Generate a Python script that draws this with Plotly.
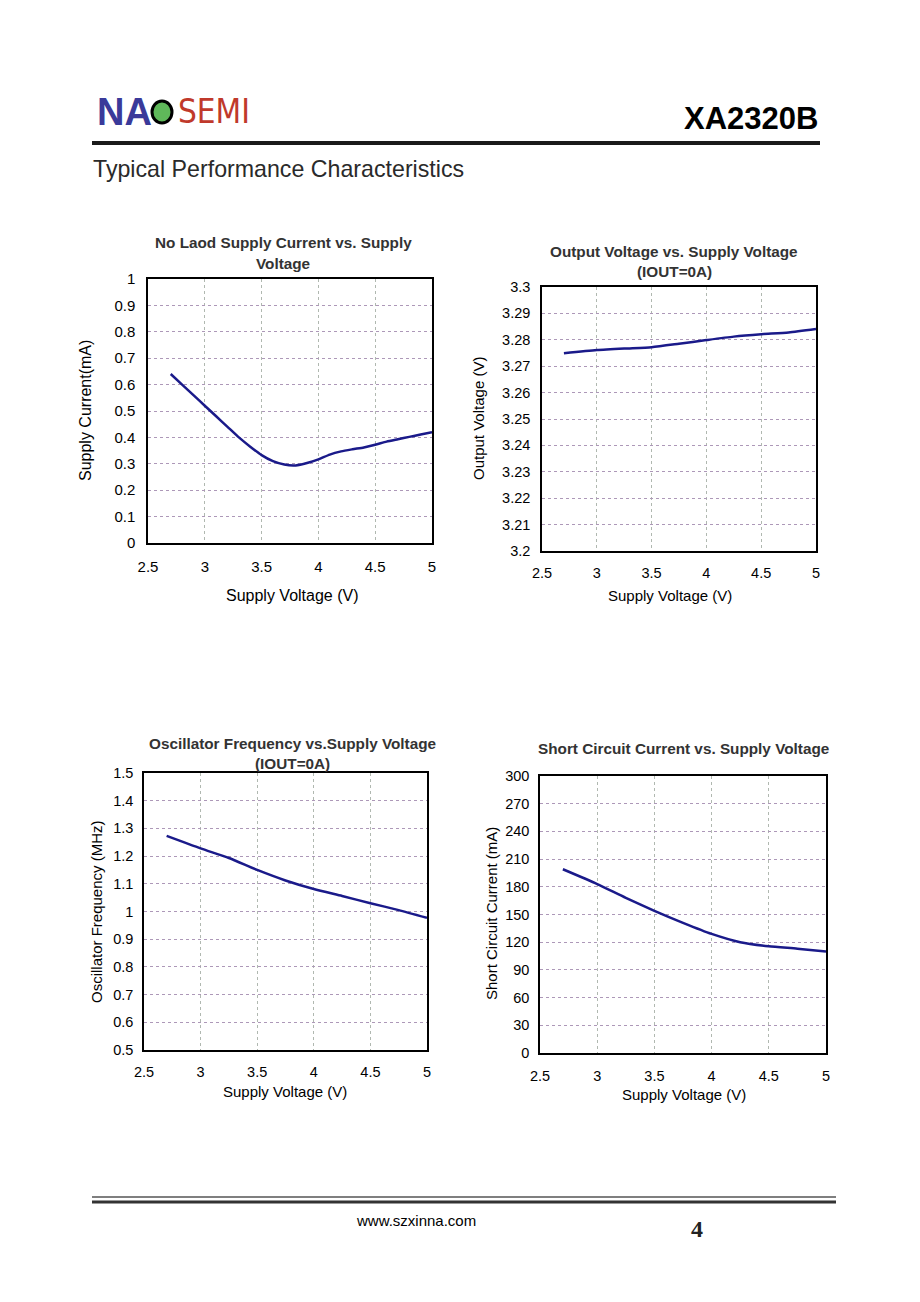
import plotly.graph_objects as go

# page offset of the figure (browser body margin)
OFF = 8
W, H = 920 - 2 * OFF, 1302 - 2 * OFF

# ---------------- data ----------------
v1 = [2.7, 2.8, 2.9, 3.0, 3.1, 3.2, 3.3, 3.4, 3.5, 3.6, 3.7, 3.8, 3.9, 4.0,
      4.1, 4.2, 4.3, 4.4, 4.5, 4.6, 4.7, 4.8, 4.9, 5.0]
supply_current = [0.64, 0.60, 0.56, 0.52, 0.48, 0.44, 0.40, 0.365, 0.333, 0.310,
                  0.297, 0.294, 0.303, 0.317, 0.335, 0.347, 0.355, 0.362, 0.372,
                  0.384, 0.393, 0.402, 0.411, 0.420]

v2 = [2.7, 3.0, 3.25, 3.5, 3.75, 4.0, 4.25, 4.5, 4.75, 5.0]
output_voltage = [3.2749, 3.2761, 3.2767, 3.2772, 3.2785, 3.2799, 3.2812, 3.2821,
                  3.2828, 3.2841]

v3 = [2.7, 3.0, 3.25, 3.5, 3.75, 4.0, 4.25, 4.5, 4.75, 5.0]
osc_freq = [1.273, 1.228, 1.193, 1.150, 1.112, 1.081, 1.056, 1.030, 1.005, 0.977]

v4 = [2.7, 3.0, 3.25, 3.5, 3.75, 4.0, 4.25, 4.5, 4.75, 5.0]
short_current = [199, 183, 168, 154, 141, 129, 120, 115.5, 113, 110]

x_ticks = [2.5, 3, 3.5, 4, 4.5, 5]

# ---------------- layout helpers ----------------
def fx(px):
    return (px - OFF) / W

def fy(py):
    return 1 - (py - OFF) / H

LINE = "#1a1a8a"
HGRID = "#ad98b8"
VGRID = "#b0b8b0"
FONT = "Liberation Sans, Arial, sans-serif"

# plot boxes: (x0, x1, y_top, y_bottom)
boxes = [
    (148, 432, 279, 543),
    (542, 816, 287, 551),
    (144, 427, 773, 1050),
    (540, 826, 776, 1053),
]
yranges = [(0, 1, 0.1), (3.2, 3.3, 0.01), (0.5, 1.5, 0.1), (0, 300, 30)]
tick_sizes = [15, 14.5, 14.5, 14.5]
y_standoff = [8, 7, 6, 6]
x_standoff = [9, 8, 8, 9]

series = [(v1, supply_current), (v2, output_voltage), (v3, osc_freq), (v4, short_current)]

fig = go.Figure()
layout = dict(
    width=W, height=H,
    margin=dict(l=0, r=0, t=0, b=0, pad=0, autoexpand=False),
    paper_bgcolor="white", plot_bgcolor="white",
    showlegend=False,
    font=dict(family=FONT, color="black"),
)

for i, ((x0, x1, yt, yb), (ymin, ymax, dy), (xs, ys), ts, ysd, xsd) in enumerate(
        zip(boxes, yranges, series, tick_sizes, y_standoff, x_standoff)):
    n = "" if i == 0 else str(i + 1)
    fig.add_trace(go.Scatter(x=xs, y=ys, mode="lines",
                             line=dict(color=LINE, width=2.5, shape="spline", smoothing=0.6),
                             xaxis="x" + n, yaxis="y" + n, hoverinfo="skip"))
    layout["xaxis" + n] = dict(
        domain=[fx(x0), fx(x1)], anchor="y" + n, range=[2.5, 5],
        tickvals=x_ticks, ticks="", showgrid=True, gridcolor=VGRID, griddash="dot",
        gridwidth=1, showline=True, linecolor="black", linewidth=1.5, mirror=True,
        zeroline=False, tickfont=dict(size=ts, family=FONT, color="black"),
        ticklabelstandoff=xsd, automargin=False,
    )
    layout["yaxis" + n] = dict(
        domain=[fy(yb), fy(yt)], anchor="x" + n, range=[ymin, ymax], dtick=dy,
        tick0=ymin, ticks="", showgrid=True, gridcolor=HGRID, griddash="dot",
        gridwidth=1, showline=True, linecolor="black", linewidth=1.5, mirror=True,
        zeroline=False, tickfont=dict(size=ts, family=FONT, color="black"),
        ticklabelstandoff=ysd, automargin=False,
    )

fig.update_layout(**layout)

ann = []
def text(x, y, s, size=13, color="black", bold=False, anchor="center", angle=0, family=FONT):
    if bold:
        s = "<b>" + s + "</b>"
    ann.append(dict(x=fx(x), y=fy(y), xref="paper", yref="paper", text=s, showarrow=False,
                    font=dict(size=size, color=color, family=family), xanchor=anchor,
                    yanchor="middle", textangle=angle, borderpad=0))

# chart titles
TC = "#333333"
text(283, 243, "No Laod Supply Current vs. Supply", 15.3, TC, True)
text(283, 263, "Voltage", 15.3, TC, True)
text(674, 251, "Output Voltage vs. Supply Voltage", 15.3, TC, True)
text(674, 271, "(IOUT=0A)", 15.3, TC, True)
text(292, 743, "Oscillator Frequency vs.Supply Voltage", 15.3, TC, True)
text(292, 763, "(IOUT=0A)", 15.3, TC, True)
text(683, 748, "Short Circuit Current vs. Supply Voltage", 15.3, TC, True)

# axis titles
text(292, 595, "Supply Voltage (V)", 16)
text(670, 595, "Supply Voltage (V)", 15)
text(285, 1091, "Supply Voltage (V)", 15)
text(684, 1094, "Supply Voltage (V)", 15)
text(85, 411, "Supply Current(mA)", 16, angle=-90)
text(478, 419, "Output Voltage (V)", 15, angle=-90)
text(97, 912, "Oscillator Frequency (MHz)", 15, angle=-90)
text(491, 914, "Short Circuit Current (mA)", 15, angle=-90)

# header
text(96, 112, "<b>NA</b>", 38, "#3a3a9a", False, "left")
text(177, 112, "SEMI", 33, "#c0392b", False, "left", family="Liberation Sans Narrow, DejaVu Sans Condensed, sans-serif")
text(819, 119, "XA2320B", 31, "black", True, "right")
text(92, 169, "Typical Performance Characteristics", 23.2, "#2a2a2a", False, "left")

# footer
text(416, 1220, "www.szxinna.com", 15)
text(697, 1229, "4", 24, "#222222", True, family="Liberation Serif, Times New Roman, serif")

fig.update_layout(annotations=ann)

shapes = [
    # logo circle
    dict(type="circle", xref="paper", yref="paper",
         x0=fx(152), x1=fx(172), y0=fy(123), y1=fy(101),
         fillcolor="#5fb85a", line=dict(color="black", width=3)),
    # header rule
    dict(type="line", xref="paper", yref="paper", x0=fx(92), x1=fx(820),
         y0=fy(143), y1=fy(143), line=dict(color="#1a1a1a", width=4)),
    # footer double rule
    dict(type="line", xref="paper", yref="paper", x0=fx(92), x1=fx(836),
         y0=fy(1197), y1=fy(1197), line=dict(color="#555555", width=1.5)),
    dict(type="line", xref="paper", yref="paper", x0=fx(92), x1=fx(836),
         y0=fy(1202), y1=fy(1202), line=dict(color="#333333", width=3)),
]
fig.update_layout(shapes=shapes)

fig.write_html("out.html")
